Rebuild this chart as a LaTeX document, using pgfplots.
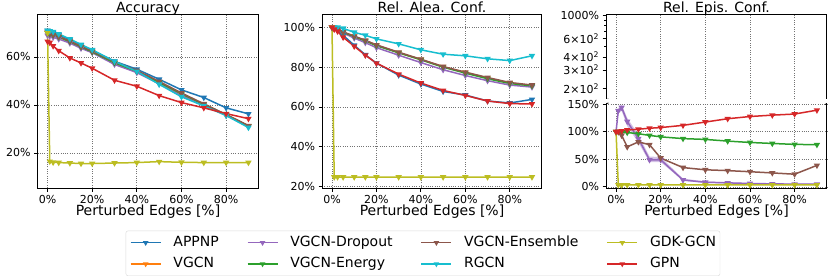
\documentclass[border=0pt]{standalone}
\usepackage{fontspec}
\setmainfont{DejaVu Sans}
\usepackage{pgfplots}
\usepackage{pgfplotstable}
\pgfplotsset{compat=1.18}
\definecolor{cA}{HTML}{1F77B4}
\definecolor{cB}{HTML}{FF7F0E}
\definecolor{cC}{HTML}{9467BD}
\definecolor{cD}{HTML}{2CA02C}
\definecolor{cE}{HTML}{8C564B}
\definecolor{cF}{HTML}{17BECF}
\definecolor{cG}{HTML}{BCBD22}
\definecolor{cH}{HTML}{D62728}

\pgfplotstableread{
x    appnp vgcn drop energy ens  rgcn gdk  gpn
0    71.0  70.2 69.0 70.0   70.3 71.0 70.0 66.5
1    70.6  69.8 68.7 69.6   69.8 70.8 16.5 66.0
2.5  70.0  69.2 68.2 69.1   69.3 70.5 16.1 64.6
5    69.2  68.4 67.5 68.3   68.5 69.6 16.0 62.6
10   67.2  66.5 65.8 66.4   66.6 67.5 15.8 59.6
15   65.0  64.3 63.6 64.2   64.4 65.2 15.6 57.5
20   62.8  62.2 61.8 62.1   62.4 63.0 15.6 55.3
30   58.2  57.5 56.9 57.6   58.0 58.2 15.8 50.3
40   54.9  53.8 53.5 54.0   54.4 54.0 16.0 47.8
50   50.7  49.2 48.8 49.4   49.8 48.6 16.4 43.9
60   46.3  44.5 44.0 44.7   45.0 43.4 16.1 41.0
70   43.1  40.2 39.8 40.3   40.5 39.6 16.0 38.8
80   38.8  35.8 35.7 36.0   36.0 35.6 16.0 36.4
90   36.3  31.2 31.0 31.3   31.4 30.6 16.0 34.3
}\accdata

\pgfplotstableread{
x    appnp vgcn  drop  energy ens   rgcn  gdk  gpn
0    100   100   100   100    100   100   100  100
1    99.5  99.8  99.6  99.8   99.8  100   24.8 99.0
2.5  98.5  99.2  99.0  99.2   99.3  100   24.8 98.0
5    96.0  97.6  97.2  97.5   97.7  99.5  24.8 95.0
10   91.0  95.5  94.6  95.3   95.6  97.5  24.8 90.5
15   86.2  93.3  92.3  93.2   93.5  96.0  24.8 86.0
20   82.0  91.0  89.8  90.8   91.2  94.2  24.8 82.0
30   76.0  87.3  86.0  87.2   87.5  91.7  24.8 76.5
40   71.5  83.8  82.3  83.7   84.0  88.7  24.8 72.0
50   67.8  80.2  78.7  80.0   80.3  86.5  24.8 68.3
60   66.0  77.3  75.8  77.0   77.5  85.7  24.8 65.8
70   63.0  74.5  73.2  74.2   74.8  84.2  24.8 63.0
80   62.0  72.0  71.0  71.8   72.3  83.3  24.8 61.7
90   63.8  70.8  70.0  70.6   71.0  85.7  24.8 61.5
}\aleadata

\pgfplotstableread{
x    drop  energy ens   gdk  gpn
0    100   100    100   100  100
1    138   99.8   100   3.5  100.5
2.5  144   99.5   93.5  3.5  101.5
5    118.5 98.5   72.5  3.5  103
10   87.5  96.3   81.5  3.5  104.5
15   49    93.3   76.5  3.5  106.3
20   49    90.7   52.2  3.5  107.5
30   12.5  87.5   35.0  3.5  111.5
40   8.5   86.0   31.0  3.5  117.5
50   7.3   83.0   29.5  3.5  123.5
60   6.2   80.5   27.5  3.5  127.5
70   5.5   78.7   25.3  3.5  130
80   5.0   77.0   23.0  3.5  132
90   5.0   76.5   39.0  3.5  139
}\episdata

% spread band of VGCN-Dropout (upper edge forward, lower edge back)
\pgfplotstableread{
x    y
0    100
1    143
2.5  149
5    125
10   95
15   55
20   54
30   15
40   10
50   8.3
60   7
70   6.3
80   5.8
90   5.8
90   4.2
80   4.2
70   4.7
60   5.4
50   6.3
40   7
30   11
20   45
15   45
10   80
5    110
2.5  138
1    133
0    100
}\bandpoly

\pgfplotsset{
 base/.style={
  scale only axis, anchor=south west,
  xmin=-4.5, xmax=94.5,
  xtick={0,20,40,60,80}, xticklabels={0\%,20\%,40\%,60\%,80\%},
  tick align=outside, xtick pos=bottom, ytick pos=left,
  major tick length=3.5pt, minor tick length=2pt,
  tick style={black, line width=0.8pt},
  grid=major,
  major grid style={black!55, line width=0.7pt, dash pattern=on 1pt off 1.3pt},
  axis line style={line width=1pt},
  ticklabel style={font=\fontsize{11}{13}\selectfont},
  /pgf/number format/assume math mode=true,
  every axis title shift=0pt,
  title style={font=\fontsize{14}{16}\selectfont, at={(0.5,1)}, anchor=base, yshift=2pt, inner sep=0pt},
  xlabel={Perturbed Edges [\%]},
  xlabel style={font=\fontsize{14}{16}\selectfont, at={(axis description cs:0.5,0)}, anchor=base, yshift=-27pt, inner sep=0pt},
  every axis plot/.append style={line width=1.5pt, mark=triangle*, mark size=2.2pt, mark options={rotate=180, solid}},
  legend image code/.code={\draw[mark repeat=2, mark phase=2, mark size=1.8pt] plot coordinates {(0pt,0pt) (15pt,0pt) (30pt,0pt)};},
 },
 leg/.style={line width=1.5pt, mark=triangle*, mark options={rotate=180, solid}},
}

\begin{document}
\begin{tikzpicture}[x=1pt,y=1pt]
\useasboundingbox (0,0) rectangle (830,279);

% ---------- Accuracy ----------
\begin{axis}[base, at={(37.5pt,91pt)}, width=221pt, height=173pt,
  ymin=5.4, ymax=77.5, ytick={20,40,60}, yticklabels={20\%,40\%,60\%},
  title={Accuracy}]
\addplot[cA] table[x=x,y=appnp]{\accdata};
\addplot[cB] table[x=x,y=vgcn]{\accdata};
\addplot[cC] table[x=x,y=drop]{\accdata};
\addplot[cD] table[x=x,y=energy]{\accdata};
\addplot[cE] table[x=x,y=ens]{\accdata};
\addplot[cF] table[x=x,y=rgcn]{\accdata};
\addplot[cG] table[x=x,y=gdk]{\accdata};
\addplot[cH] table[x=x,y=gpn]{\accdata};
\end{axis}

% ---------- Rel. Alea. Conf. ----------
\begin{axis}[base, at={(322pt,91pt)}, width=220pt, height=173pt,
  ymin=19.3, ymax=106.2, ytick={20,40,60,80,100}, yticklabels={20\%,40\%,60\%,80\%,100\%},
  title={Rel. Alea. Conf.},
  legend columns=4, legend cell align=left,
  legend style={at={(0.459,-0.3775)}, anchor=center, draw=black!15, rounded corners=2pt,
    font=\fontsize{14}{16}\selectfont, inner xsep=4pt, inner ysep=5pt,
    nodes={inner sep=0pt, text height=10.5pt, text depth=3pt},
    row sep=7.8pt,
    /tikz/every odd column/.append style={column sep=12pt},
    /tikz/every even column/.append style={column sep=28pt}}]
\addplot[cA, forget plot] table[x=x,y=appnp]{\aleadata};
\addplot[cB, forget plot] table[x=x,y=vgcn]{\aleadata};
\addplot[cC, forget plot] table[x=x,y=drop]{\aleadata};
\addplot[cD, forget plot] table[x=x,y=energy]{\aleadata};
\addplot[cE, forget plot] table[x=x,y=ens]{\aleadata};
\addplot[cF, forget plot] table[x=x,y=rgcn]{\aleadata};
\addplot[cG, forget plot] table[x=x,y=gdk]{\aleadata};
\addplot[cH, forget plot] table[x=x,y=gpn]{\aleadata};
\addlegendimage{leg, cA}\addlegendentry{APPNP}
\addlegendimage{leg, cC}\addlegendentry{VGCN-Dropout}
\addlegendimage{leg, cE}\addlegendentry{VGCN-Ensemble}
\addlegendimage{leg, cG}\addlegendentry{GDK-GCN}
\addlegendimage{leg, cB}\addlegendentry{\rlap{VGCN}\phantom{APPNP}}
\addlegendimage{leg, cD}\addlegendentry{\rlap{VGCN-Energy}\phantom{VGCN-Dropout}}
\addlegendimage{leg, cF}\addlegendentry{\rlap{RGCN}\phantom{VGCN-Ensemble}}
\addlegendimage{leg, cH}\addlegendentry{\rlap{GPN}\phantom{GDK-GCN}}
\end{axis}

% ---------- Rel. Epis. Conf. (upper, log) ----------
\begin{axis}[base, at={(606pt,180pt)}, width=221pt, height=84pt,
  ymode=log, ymin=158, ymax=1010,
  ytick={200,300,400,600,1000},
  yticklabels={2×10\textsuperscript{2},3×10\textsuperscript{2},4×10\textsuperscript{2},6×10\textsuperscript{2},1000\%},
  minor ytick={500,700,800,900},
  ymajorgrids=false, xmajorgrids=true,
  xticklabels={}, xlabel={}, xtick style={draw=none},
  axis line style={draw=none},
  title={Rel. Epis. Conf.}]
\addplot[draw=none, mark=none, forget plot] coordinates {(0,200) (90,200)};
\draw[black, line width=1pt] (rel axis cs:0,0) -- (rel axis cs:0,1) -- (rel axis cs:1,1) -- (rel axis cs:1,0);
\draw[black, line width=0.8pt] (rel axis cs:0,0) ++(-2.5pt,-1.5pt) .. controls +(1pt,2pt) and +(-1pt,-2pt) .. ++(5pt,1.5pt);
\draw[black, line width=0.8pt] (rel axis cs:1,0) ++(-2.5pt,-1.5pt) .. controls +(1pt,2pt) and +(-1pt,-2pt) .. ++(5pt,1.5pt);
\end{axis}

% ---------- Rel. Epis. Conf. (lower, linear) ----------
\begin{axis}[base, at={(606pt,91pt)}, width=221pt, height=85pt,
  ymin=-2, ymax=152, ytick={0,50,100,150}, yticklabels={0\%,50\%,100\%,150\%},
  axis line style={draw=none}]
\addplot[fill=cC!40, draw=none, mark=none, forget plot] table[x=x,y=y]{\bandpoly} -- cycle;
\addplot[cC] table[x=x,y=drop]{\episdata};
\addplot[cD] table[x=x,y=energy]{\episdata};
\addplot[cE] table[x=x,y=ens]{\episdata};
\addplot[cG] table[x=x,y=gdk]{\episdata};
\addplot[cH] table[x=x,y=gpn]{\episdata};
\draw[black, line width=1pt] (rel axis cs:0,1) -- (rel axis cs:0,0) -- (rel axis cs:1,0) -- (rel axis cs:1,1);
\draw[black, line width=0.8pt] (rel axis cs:0,1) ++(-2.5pt,-1.5pt) .. controls +(1pt,2pt) and +(-1pt,-2pt) .. ++(5pt,1.5pt);
\draw[black, line width=0.8pt] (rel axis cs:1,1) ++(-2.5pt,-1.5pt) .. controls +(1pt,2pt) and +(-1pt,-2pt) .. ++(5pt,1.5pt);
\end{axis}
\end{tikzpicture}
\end{document}
